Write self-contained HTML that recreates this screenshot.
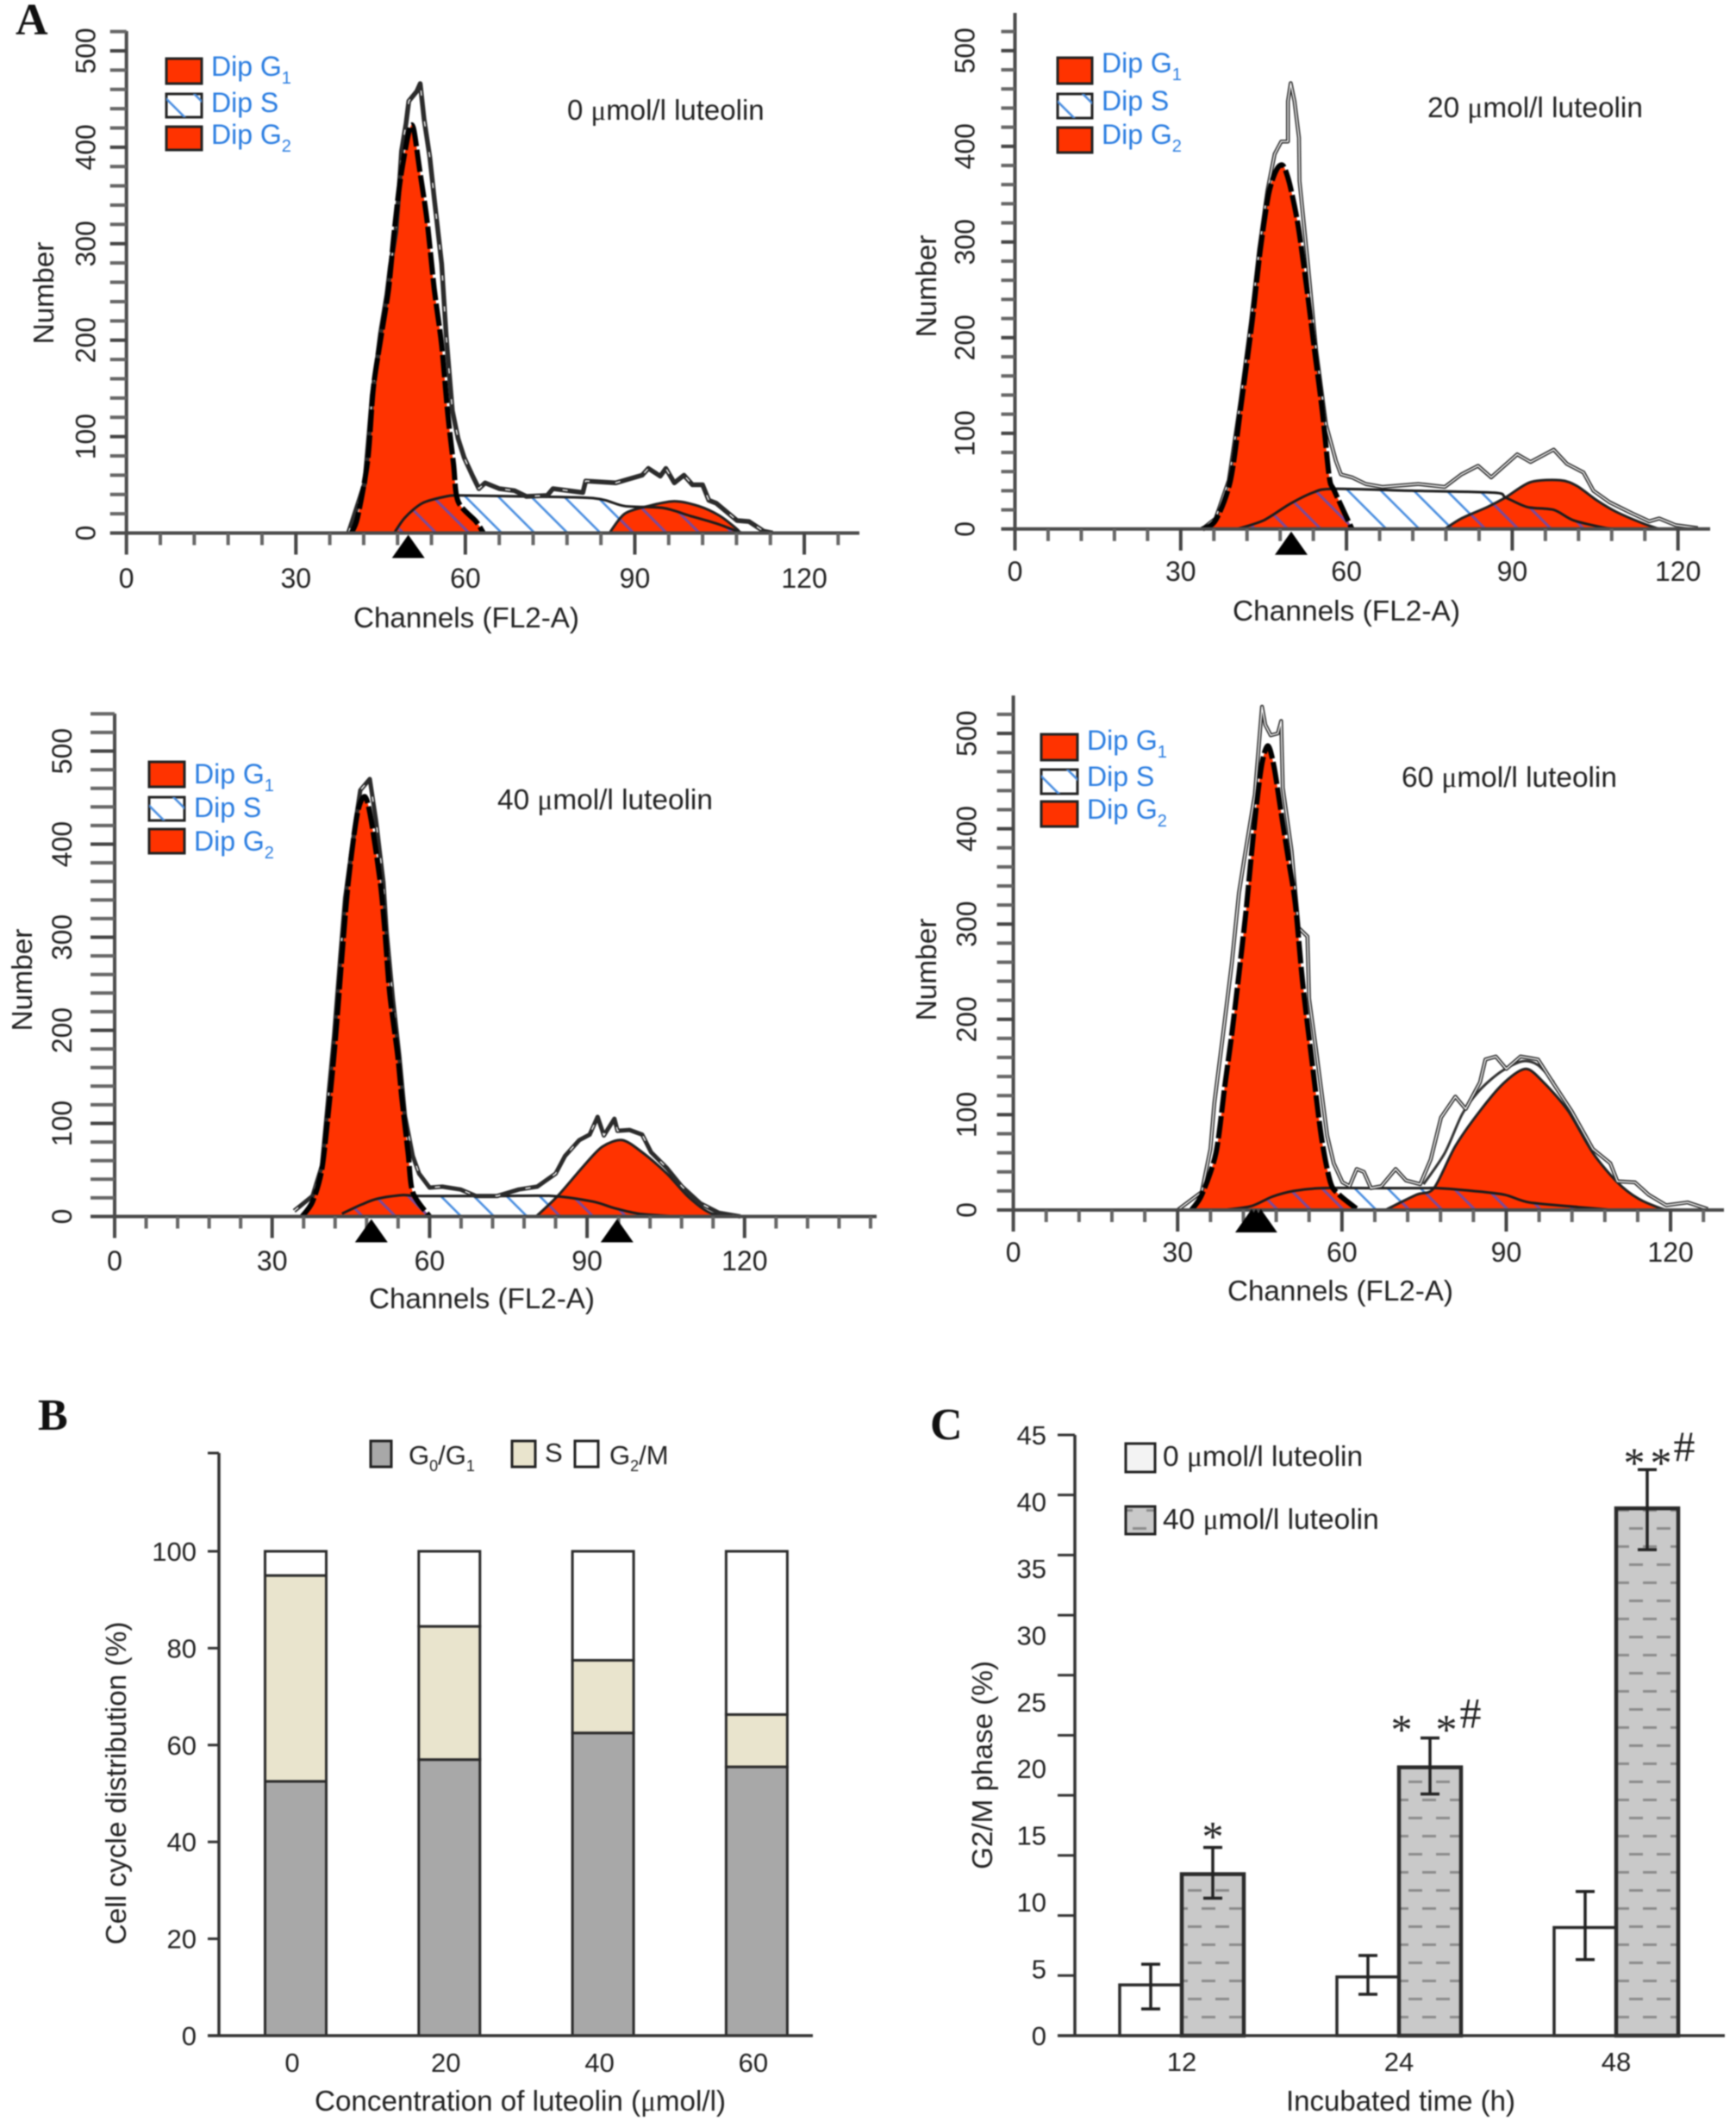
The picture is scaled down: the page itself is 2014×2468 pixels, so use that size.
<!DOCTYPE html>
<html lang="en">
<head>
<meta charset="utf-8">
<title>Luteolin cell cycle figure</title>
<style>
html,body{margin:0;padding:0;background:#fff;}
svg{display:block;filter:blur(.8px);}
text{font-family:"Liberation Sans",sans-serif;fill:#222;}
.tick{font-size:32px;}
.title{font-size:33.4px;}
.blue{font-size:32px;fill:#2a7de1;}
.blue tspan.sub{font-size:20px;fill:#2a7de1;}
.sub{font-size:18px;}
.mu{font-family:"Liberation Serif",serif;}
.letter{font-family:"Liberation Serif",serif;font-weight:bold;font-size:52px;fill:#111;}
.mark{font-family:"Liberation Serif",serif;font-size:50px;fill:#222;}
.sw{stroke:#222;stroke-width:3;}
</style>
</head>
<body>
<svg id="fig" width="2014" height="2468" viewBox="0 0 2014 2468">
<defs>
<pattern id="hatch" width="27" height="27" patternUnits="userSpaceOnUse" patternTransform="rotate(-45)"><rect x="0" y="0" width="2.6" height="27" fill="#4a8ee0"/></pattern>
<pattern id="hatchOver" width="27" height="27" patternUnits="userSpaceOnUse" patternTransform="rotate(-45)"><rect x="0" y="0" width="3" height="27" fill="#7a4a9a"/></pattern>
<pattern id="dash" width="32" height="42" patternUnits="userSpaceOnUse"><rect width="32" height="42" fill="#c9c9c9"/><rect x="2" y="8" width="16" height="3" fill="#8c8c8c"/><rect x="18" y="29" width="14" height="3" fill="#8c8c8c"/><rect x="0" y="29" width="2" height="3" fill="#8c8c8c"/></pattern>
</defs>
<rect width="2014" height="2468" fill="#fff"/>

<g id="a1"></g>
<g id="a2"></g>
<g id="a3"></g>
<g id="a4"></g>
<g id="chartB"></g>
<g id="chartC"></g>

<text class="letter" x="18" y="40">A</text>
<text class="letter" x="44" y="1659">B</text>
<text class="letter" x="1079" y="1670">C</text>

<!-- panel A1 labels -->
<g>
<rect class="sw" x="193" y="68" width="41" height="29" fill="#ff3300"/>
<rect class="sw" x="193" y="109" width="41" height="27" fill="#fff"/>
<rect x="193" y="109" width="41" height="27" fill="url(#hatch)"/>
<rect class="sw" x="193" y="147" width="41" height="27" fill="#ff3300"/>
<text class="blue" x="245" y="88">Dip G<tspan class="sub" dy="9">1</tspan></text>
<text class="blue" x="245" y="130">Dip S</text>
<text class="blue" x="245" y="167">Dip G<tspan class="sub" dy="9">2</tspan></text>
</g>
<text class="title" style="font-size:33px" x="658" y="139">0 <tspan class="mu">μ</tspan>mol/l luteolin</text>
<text class="title" transform="translate(62,340) rotate(-90)" text-anchor="middle">Number</text>
<text class="title" x="541" y="728" text-anchor="middle" textLength="262" lengthAdjust="spacingAndGlyphs">Channels (FL2-A)</text>

<!-- panel A2 labels -->
<g>
<rect class="sw" x="1227" y="67" width="40" height="30" fill="#ff3300"/>
<rect class="sw" x="1227" y="109" width="40" height="28" fill="#fff"/>
<rect x="1227" y="109" width="40" height="28" fill="url(#hatch)"/>
<rect class="sw" x="1227" y="148" width="40" height="29" fill="#ff3300"/>
<text class="blue" x="1278" y="84">Dip G<tspan class="sub" dy="9">1</tspan></text>
<text class="blue" x="1278" y="128">Dip S</text>
<text class="blue" x="1278" y="167">Dip G<tspan class="sub" dy="9">2</tspan></text>
</g>
<text class="title" x="1656" y="136">20 <tspan class="mu">μ</tspan>mol/l luteolin</text>
<text class="title" transform="translate(1086,332) rotate(-90)" text-anchor="middle">Number</text>
<text class="title" x="1562" y="720" text-anchor="middle" textLength="264" lengthAdjust="spacingAndGlyphs">Channels (FL2-A)</text>

<!-- panel A3 labels -->
<g>
<rect class="sw" x="173" y="884" width="41" height="29" fill="#ff3300"/>
<rect class="sw" x="173" y="925" width="41" height="27" fill="#fff"/>
<rect x="173" y="925" width="41" height="27" fill="url(#hatch)"/>
<rect class="sw" x="173" y="962" width="41" height="28" fill="#ff3300"/>
<text class="blue" x="225" y="909">Dip G<tspan class="sub" dy="9">1</tspan></text>
<text class="blue" x="225" y="948">Dip S</text>
<text class="blue" x="225" y="987">Dip G<tspan class="sub" dy="9">2</tspan></text>
</g>
<text class="title" x="577" y="939">40 <tspan class="mu">μ</tspan>mol/l luteolin</text>
<text class="title" transform="translate(37,1137) rotate(-90)" text-anchor="middle">Number</text>
<text class="title" x="559" y="1518" text-anchor="middle" textLength="262" lengthAdjust="spacingAndGlyphs">Channels (FL2-A)</text>

<!-- panel A4 labels -->
<g>
<rect class="sw" x="1208" y="852" width="42" height="30" fill="#ff3300"/>
<rect class="sw" x="1208" y="893" width="42" height="28" fill="#fff"/>
<rect x="1208" y="893" width="42" height="28" fill="url(#hatch)"/>
<rect class="sw" x="1208" y="930" width="42" height="29" fill="#ff3300"/>
<text class="blue" x="1261" y="870">Dip G<tspan class="sub" dy="9">1</tspan></text>
<text class="blue" x="1261" y="912">Dip S</text>
<text class="blue" x="1261" y="950">Dip G<tspan class="sub" dy="9">2</tspan></text>
</g>
<text class="title" x="1626" y="913">60 <tspan class="mu">μ</tspan>mol/l luteolin</text>
<text class="title" transform="translate(1086,1125) rotate(-90)" text-anchor="middle">Number</text>
<text class="title" x="1555" y="1509" text-anchor="middle" textLength="262" lengthAdjust="spacingAndGlyphs">Channels (FL2-A)</text>

<!-- panel B labels -->
<g>
<rect class="sw" x="430" y="1672" width="24" height="30" fill="#a8a8a8"/>
<text x="474" y="1699" style="font-size:31px">G<tspan class="sub" dy="8">0</tspan><tspan dy="-8">/G</tspan><tspan class="sub" dy="8">1</tspan></text>
<rect class="sw" x="594" y="1672" width="27" height="30" fill="#e9e4cd"/>
<text x="632" y="1696" style="font-size:31px">S</text>
<rect class="sw" x="667" y="1672" width="27" height="30" fill="#fff"/>
<text x="707" y="1699" style="font-size:31px">G<tspan class="sub" dy="8">2</tspan><tspan dy="-8">/M</tspan></text>
</g>
<text class="title" transform="translate(146,2069) rotate(-90)" text-anchor="middle" textLength="375" lengthAdjust="spacingAndGlyphs">Cell cycle distribution (%)</text>
<text class="title" x="365" y="2449" textLength="477" lengthAdjust="spacingAndGlyphs">Concentration of luteolin (<tspan class="mu">μ</tspan>mol/l)</text>

<!-- panel C labels -->
<g>
<rect class="sw" x="1306" y="1675" width="34" height="33" fill="#f3f3f3"/>
<text class="title" x="1349" y="1701" style="font-size:33.5px">0 <tspan class="mu">μ</tspan>mol/l luteolin</text>
<rect class="sw" x="1306" y="1748" width="34" height="32" fill="url(#dash)"/>
<text class="title" x="1349" y="1774" style="font-size:33.5px">40 <tspan class="mu">μ</tspan>mol/l luteolin</text>
</g>
<text class="title" transform="translate(1151,2048) rotate(-90)" text-anchor="middle" textLength="242" lengthAdjust="spacingAndGlyphs">G2/M phase (%)</text>
<text class="title" x="1625" y="2449" text-anchor="middle" textLength="266" lengthAdjust="spacingAndGlyphs">Incubated time (h)</text>
</svg>

<script>
/* ---------- histogram tick labels ---------- */
const histXTicks = [0, 30, 60, 90, 120];
const histYTicks = [0, 100, 200, 300, 400, 500];

/* ---------- panel A1: 0 umol/l ---------- */
const a1MeasuredCh = [39.3,40.3,42.2,43,43.5,44.3,45,46.1,46.7,47.7,48.2,48.7,49.5,50,51.4,52,52.7,53.7,54.5,55.8,56.6,57.7,58.7,59.8,61.3,62.4,63.5,66,68.7,70.8,74.5,75.5,80.8,81.3,86.6,91.3,92.4,94.5,95.5,97,98.7,100.2,102,103.1,104.4,108.1,110.2,112.8,114.4];
const a1MeasuredVal = [0,18,52,107,143,175,208,247,276,312,351,396,425,448,458,466,429,390,347,279,205,127,98,78,59,46,52,46,44,38,39,46,42,54,52,60,67,59,67,52,60,50,50,34,31,13,12,2,0];
const a1G1Ch = [39.8,40.9,42.7,43.7,45,46.4,47.4,48.5,50,50.8,51.9,53.2,54.5,55.8,56.9,57.9,58.7,61.9,63.2];
const a1G1Val = [0,16,75,150,201,253,312,367,416,420,377,325,253,195,123,72,33,12,0];
const a1SCh = [47.4,49.3,52.4,56.6,59.2,70,82.9,88.2,95,99.7,104.4,108.1,109.2];
const a1SVal = [0,16,31,38,39,38,36,28,26,18,10,2,0];
const a1G2Ch = [85.5,88.2,92.4,97,101.3,105,108.1,108.6];
const a1G2Val = [0,20,28,33,28,18,4,0];
const a1FitCh = [];
const a1FitVal = [];
const a1Markers = [49.9];

/* ---------- panel A2: 20 umol/l ---------- */
const a2MeasuredCh = [33.9,36.3,38.7,40.8,42.7,44.2,45.7,47,48.2,49.4,49.4,49.9,50.6,51.4,51.5,53,54.5,56.3,58.1,59,61,63.5,66.5,73,77.8,80.8,83.8,86.2,90.9,93.3,97.5,99.9,102.9,104.7,107.6,111.8,114.8,116.6,119.6,123.6];
const a2MeasuredVal = [0,11,51,133,216,292,354,392,405,405,447,466,447,409,364,278,188,109,71,57,54,47,44,47,44,57,66,54,78,70,83,68,59,40,28,16,8,11,4,1];
const a2G1Ch = [33.9,36.3,39,41,42.9,44.4,45.9,47.3,48.5,49.7,51.2,52.7,54.2,55.7,56.9,57.8,61];
const a2G1Val = [0,9,51,133,216,292,350,375,380,361,319,257,188,120,54,40,0];
const a2SCh = [40.2,45,49.7,53.9,57.5,71.8,86.7,88.8,92.7,97.5,101.1,107,110];
const a2SVal = [0,9,26,38,42,40,38,33,23,20,9,1,0];
const a2G2Ch = [77.8,80.8,85.5,88.8,93.3,98.7,101.7,105.3,108.8,113.6,116.6];
const a2G2Val = [0,11,23,33,49,51,45,30,18,6,0];
const a2FitCh = [];
const a2FitVal = [];
const a2Markers = [50];

/* ---------- panel A3: 40 umol/l ---------- */
const a3MeasuredCh = [34.2,37.7,39.5,40.7,41.8,43,43.9,46,46.8,48.6,49.8,51.2,51.8,53,54.2,55.3,56.8,58,60,62.4,65.9,68.8,72.9,77,80.5,84,85.8,88.5,90.5,92,93.2,95.2,95.8,98.1,100.5,102.2,105.2,108.1,111.6,115.1,119.2];
const a3MeasuredVal = [6,22,55,128,194,280,342,428,458,470,425,359,306,234,174,108,65,46,31,32,29,22,22,29,32,46,65,82,88,107,87,105,92,93,88,69,52,32,14,4,0];
const a3G1Ch = [35.7,37.7,39.5,41,42.1,43.3,44.5,46.2,47.7,48.9,50.6,51.5,52.4,53.9,54.7,55.9,56.8,60];
const a3G1Val = [0,16,52,128,194,280,359,432,451,425,359,306,240,174,128,69,26,0];
const a3SCh = [43.3,47.1,50,54.7,58.3,72.9,83.5,91.1,95.2,99.9,107];
const a3SVal = [3,13,19,23,22,22,22,16,9,3,0];
const a3G2Ch = [80.3,84.4,89.3,92.9,96.7,100.5,105.2,109.3,113.4,118];
const a3G2Val = [0,22,54,75,82,69,46,21,4,0];
const a3FitCh = [];
const a3FitVal = [];
const a3Markers = [48.9, 95.7];

/* ---------- panel A4: 60 umol/l ---------- */
const a4MeasuredCh = [30,34.4,36,36.7,38.3,39.9,41.2,42.2,44.1,45.4,46,47,48.3,48.9,49.2,50.8,52.1,53.7,54,55.3,57.3,58.5,60.1,61.4,62.7,64,65.3,67.2,69.8,71.7,74.3,76.2,78.1,80.7,82.6,85.2,86.2,88.1,90,92.6,95.8,98.7,101.9,105.8,109,110.3,113.5,116,119.2,123.1,126.8];
const a4MeasuredVal = [0,19,64,112,185,259,333,369,436,528,509,498,500,513,443,377,296,287,222,167,78,49,29,25,43,40,23,25,43,31,27,53,97,119,106,134,158,161,148,161,158,132,104,64,49,30,29,16,5,8,1];
const a4G1Ch = [32.5,34.4,37,38.6,39.9,41.2,42.5,43.4,44.4,45.4,46.5,47.6,48.9,50.2,51.5,52.8,54.7,56.3,57.9,59.5,63];
const a4G1Val = [0,16,60,130,185,248,314,369,425,469,487,465,417,369,321,240,148,75,29,16,0];
const a4SCh = [38.3,43.4,47.3,51.2,56.3,65.9,74.9,77.5,83.9,89.7,94.2,103.2,109.6];
const a4SVal = [0,4,14,20,23,23,23,23,20,16,8,3,0];
const a4G2Ch = [67.9,73.6,76.8,80.7,85.2,89.7,93.6,96.8,101.3,105.8,110.3,114.1,118.6,120.5];
const a4G2Val = [0,16,23,67,104,134,148,134,104,60,29,12,1,0];
const a4FitCh = [74.9,78.8,82,85.2,89,92.9,95.8,98.7];
const a4FitVal = [27,60,101,126,145,156,152,134];
const a4Markers = [43.5, 44.3, 45.2];

/* ---------- panel B: stacked bars ---------- */
const bCategories = ["0", "20", "40", "60"];
const bG0G1 = [52.5, 57, 62.5, 55.5];
const bS = [42.5, 27.5, 15, 10.8];
const bG2M = [5, 15.5, 22.5, 33.7];
const bYTicks = [0, 20, 40, 60, 80, 100];

/* ---------- panel C: grouped bars ---------- */
const cCategories = ["12", "24", "48"];
const cControl = [3.8, 4.4, 8.1];
const cControlErrUp = [1.55, 1.6, 2.7];
const cControlErrDown = [1.8, 1.3, 2.4];
const cTreated = [12.1, 20.1, 39.5];
const cTreatedErrUp = [2.0, 2.2, 2.9];
const cTreatedErrDown = [1.8, 2.0, 3.1];
const cYLabels = [0, 5, 10, 15, 20, 25, 30, 35, 40, 45];
const cYTickValues = [0, 4.5, 9, 13.5, 18, 22.5, 27, 31.5, 36, 40.5, 45];
const cSignificance = [["*"], ["*", "*", "#"], ["*", "*", "#"]];

const NS = 'http://www.w3.org/2000/svg';
function add(parent, tag, attrs, txt) {
  const n = document.createElementNS(NS, tag);
  for (const k in attrs) n.setAttribute(k, attrs[k]);
  if (txt !== undefined) n.textContent = txt;
  parent.appendChild(n);
  return n;
}

function drawHistogram(g, p, mCh, mVal, g1Ch, g1Val, sCh, sVal, g2Ch, g2Val, fitCh, fitVal, markers) {
  const x = c => p.x0 + c * p.sx;
  const y = v => p.y0 - v * p.sy;
  const line = (ch, val) => ch.map((c, i) => (i ? 'L' : 'M') + x(c).toFixed(1) + ' ' + y(val[i]).toFixed(1)).join(' ');
  const smooth = (ch, val) => {
    const pts = ch.map((c, i) => [x(c), y(val[i])]);
    let d = 'M' + pts[0][0].toFixed(1) + ' ' + pts[0][1].toFixed(1);
    for (let i = 0; i < pts.length - 1; i++) {
      const a = pts[i - 1] || pts[i], b = pts[i], c = pts[i + 1], e = pts[i + 2] || c;
      d += ' C' + (b[0] + (c[0] - a[0]) / 7).toFixed(1) + ' ' + (b[1] + (c[1] - a[1]) / 7).toFixed(1) + ' ' +
        (c[0] - (e[0] - b[0]) / 7).toFixed(1) + ' ' + (c[1] - (e[1] - b[1]) / 7).toFixed(1) + ' ' +
        c[0].toFixed(1) + ' ' + c[1].toFixed(1);
    }
    return d;
  };
  const area = (ch, val) => smooth(ch, val) + ' L' + x(ch[ch.length - 1]).toFixed(1) + ' ' + y(0) + ' L' + x(ch[0]).toFixed(1) + ' ' + y(0) + ' Z';
  let el;

  const clip = add(g, 'clipPath', {id: p.id + '-peaks'});
  add(clip, 'path', {d: area(g1Ch, g1Val)});
  add(clip, 'path', {d: area(g2Ch, g2Val)});

  el = add(g, 'path', {d: area(sCh, sVal), fill: '#fff'});
  
  
  el = add(g, 'path', {d: area(sCh, sVal), fill: 'url(#hatch)'});
  
  
  el = add(g, 'path', {d: area(g1Ch, g1Val), fill: '#ff3300'});
  
  
  el = add(g, 'path', {d: area(g2Ch, g2Val), fill: '#ff3300'});
  
  
  el = add(g, 'path', {d: area(sCh, sVal), fill: 'url(#hatchOver)', 'clip-path': 'url(#' + p.id + '-peaks)'});
  
  

  el = add(g, 'path', {d: smooth(g2Ch, g2Val), fill: 'none', stroke: '#222', 'stroke-width': 3});
  
  
  el = add(g, 'path', {d: smooth(sCh, sVal), fill: 'none', stroke: '#1c1c1c', 'stroke-width': 3});
  
  

  if (fitCh.length) {
    el = add(g, 'path', {d: smooth(fitCh, fitVal), fill: 'none', stroke: '#333', 'stroke-width': 3});
    
    
  }

  el = add(g, 'path', {d: line(mCh, mVal), fill: 'none', stroke: '#2b2b2b', 'stroke-width': p.mWidth, 'stroke-linejoin': 'round'});
  
  
  el = add(g, 'path', {d: line(mCh, mVal), fill: 'none', stroke: '#fff', 'stroke-width': 1.4, 'stroke-dasharray': p.core, 'stroke-linejoin': 'round'});
  
  
  el = add(g, 'path', {d: smooth(g1Ch, g1Val), fill: 'none', stroke: '#000', 'stroke-width': 6, 'stroke-dasharray': '26 4'});
  
  

  // axes
  el = add(g, 'line', {x1: x(0), x2: x(0), y1: p.top, y2: p.y0 + 25, stroke: '#4a4a4a', 'stroke-width': 4});
  
  
  el = add(g, 'line', {x1: x(0) - p.tickLeft, x2: p.right, y1: y(0), y2: y(0), stroke: '#4a4a4a', 'stroke-width': 4});
  
  
  for (let v = 20; y(v) >= p.top; v += 20) {
    el = add(g, 'line', {x1: x(0) - p.tickLeft, x2: x(0), y1: y(v), y2: y(v), stroke: v % 100 === 0 ? '#444' : '#666', 'stroke-width': 4});
    
    
  }
  for (let c = 6; x(c) <= p.right; c += 6) {
    el = add(g, 'line', {x1: x(c), x2: x(c), y1: y(0), y2: y(0) + (c % 30 === 0 ? 25 : 14), stroke: c % 30 === 0 ? '#444' : '#666', 'stroke-width': 4});
    
    
  }
  histXTicks.forEach(t => {
    el = add(g, 'text', {class: 'tick', x: x(t), y: p.xLabelY, 'text-anchor': 'middle'}, String(t));
    
    
  });
  histYTicks.forEach(t => {
    el = add(g, 'text', {class: 'tick', transform: 'translate(' + (x(0) - p.yLabelOff + 11) + ',' + y(t) + ') rotate(-90)', 'text-anchor': 'middle'}, String(t));
    
    
  });
  markers.forEach(c => {
    const m = x(c), b = y(0) + p.markerDrop;
    el = add(g, 'polygon', {points: (m - 19) + ',' + b + ' ' + m + ',' + (b - 27) + ' ' + (m + 19) + ',' + b, fill: '#000'});
    
    
  });
}

drawHistogram(document.getElementById('a1'),
  {id: 'a1', x0: 146.7, sx: 6.553, y0: 618.5, sy: 1.119, top: 36, right: 997, tickLeft: 19, yLabelOff: 47, xLabelY: 682, core: '6 30', mWidth: 5.5, markerDrop: 29},
  a1MeasuredCh, a1MeasuredVal, a1G1Ch, a1G1Val, a1SCh, a1SVal, a1G2Ch, a1G2Val, a1FitCh, a1FitVal, a1Markers);
drawHistogram(document.getElementById('a2'),
  {id: 'a2', x0: 1177.5, sx: 6.41, y0: 613.8, sy: 1.11, top: 15, right: 1984, tickLeft: 16, yLabelOff: 58, xLabelY: 674, core: 'none', mWidth: 4.5, markerDrop: 30},
  a2MeasuredCh, a2MeasuredVal, a2G1Ch, a2G1Val, a2SCh, a2SVal, a2G2Ch, a2G2Val, a2FitCh, a2FitVal, a2Markers);
drawHistogram(document.getElementById('a3'),
  {id: 'a3', x0: 133, sx: 6.09, y0: 1411.5, sy: 1.08, top: 828, right: 1017, tickLeft: 28, yLabelOff: 61, xLabelY: 1474, core: '6 30', mWidth: 5, markerDrop: 30},
  a3MeasuredCh, a3MeasuredVal, a3G1Ch, a3G1Val, a3SCh, a3SVal, a3G2Ch, a3G2Val, a3FitCh, a3FitVal, a3Markers);
drawHistogram(document.getElementById('a4'),
  {id: 'a4', x0: 1175.6, sx: 6.354, y0: 1404, sy: 1.106, top: 807, right: 2000, tickLeft: 19, yLabelOff: 54, xLabelY: 1464, core: 'none', mWidth: 4.5, markerDrop: 26},
  a4MeasuredCh, a4MeasuredVal, a4G1Ch, a4G1Val, a4SCh, a4SVal, a4G2Ch, a4G2Val, a4FitCh, a4FitVal, a4Markers);

/* ---------- stacked bars ---------- */
(function () {
  const g = document.getElementById('chartB');
  const y = v => 2362 - v * 5.62;
  const cx = i => 343 + i * 178.3;
  const w = 71;
  let el;
  el = add(g, 'line', {x1: 254, x2: 254, y1: 1686, y2: 2362, stroke: '#333', 'stroke-width': 3.5});
  
  
  el = add(g, 'line', {x1: 241, x2: 254, y1: 1686, y2: 1686, stroke: '#333', 'stroke-width': 3});
  
  
  bYTicks.forEach(t => {
    el = add(g, 'line', {x1: 241, x2: 254, y1: y(t), y2: y(t), stroke: '#333', 'stroke-width': 3});
    
    
    el = add(g, 'text', {class: 'tick', x: 228, y: y(t) + 11, 'text-anchor': 'end', style: 'font-size:31px'}, String(t));
    
    
  });
  bCategories.forEach((c, i) => {
    const left = cx(i) - w / 2;
    const a = bG0G1[i], b = a + bS[i], d = b + bG2M[i];
    el = add(g, 'rect', {x: left, y: y(a), width: w, height: y(0) - y(a), fill: '#a8a8a8', stroke: '#2a2a2a', 'stroke-width': 3});
    
    
    el = add(g, 'rect', {x: left, y: y(b), width: w, height: y(a) - y(b), fill: '#e9e4cd', stroke: '#2a2a2a', 'stroke-width': 3});
    
    
    el = add(g, 'rect', {x: left, y: y(d), width: w, height: y(b) - y(d), fill: '#fff', stroke: '#2a2a2a', 'stroke-width': 3});
    
    
    el = add(g, 'text', {class: 'tick', x: cx(i) - 4, y: 2404, 'text-anchor': 'middle', style: 'font-size:31px'}, c);
    
    
  });
  el = add(g, 'line', {x1: 241, x2: 943, y1: 2362, y2: 2362, stroke: '#333', 'stroke-width': 3.5});
  
  
})();

/* ---------- grouped bars ---------- */
(function () {
  const g = document.getElementById('chartC');
  const y = v => 2362 - v * 15.49;
  const cx = i => 1371 + i * 252;
  const w = 72;
  let el;
  el = add(g, 'line', {x1: 1247, x2: 1247, y1: y(45), y2: y(0), stroke: '#333', 'stroke-width': 3.5});
  
  
  cYTickValues.forEach(t => {
    el = add(g, 'line', {x1: 1227, x2: 1247, y1: y(t), y2: y(t), stroke: '#333', 'stroke-width': 3});
    
    
  });
  cYLabels.forEach(t => {
    el = add(g, 'text', {class: 'tick', x: 1214, y: y(t) + 11, 'text-anchor': 'end', style: 'font-size:31px'}, String(t));
    
    
  });
  function errorBar(xc, up, down) {
    let e;
    e = add(g, 'line', {x1: xc, x2: xc, y1: y(up), y2: y(down), stroke: '#222', 'stroke-width': 3.5});
    
    
    [up, down].forEach(v => {
      e = add(g, 'line', {x1: xc - 11, x2: xc + 11, y1: y(v), y2: y(v), stroke: '#222', 'stroke-width': 3.5});
      
      
    });
  }
  cCategories.forEach((c, i) => {
    const m = cx(i);
    el = add(g, 'rect', {x: m - w, y: y(cControl[i]), width: w, height: y(0) - y(cControl[i]), fill: '#fff', stroke: '#2a2a2a', 'stroke-width': 3.5});
    
    
    el = add(g, 'rect', {x: m, y: y(cTreated[i]), width: w, height: y(0) - y(cTreated[i]), fill: 'url(#dash)', stroke: '#2a2a2a', 'stroke-width': 4.5});
    
    
    errorBar(m - w / 2, cControl[i] + cControlErrUp[i], cControl[i] - cControlErrDown[i]);
    errorBar(m + w / 2, cTreated[i] + cTreatedErrUp[i], cTreated[i] - cTreatedErrDown[i]);
    el = add(g, 'text', {class: 'tick', x: m, y: 2403, 'text-anchor': 'middle', style: 'font-size:31px'}, c);
    
    
    const top = y(cTreated[i] + cTreatedErrUp[i]);
    const marks = cSignificance[i];
    const spacing = i === 1 ? [-33, 19, 47] : (i === 2 ? [-15, 16, 43] : [0]);
    const lift = i === 0 ? 5 : (i === 1 ? 2 : 0);
    marks.forEach((s, k) => {
      el = add(g, 'text', {class: 'mark', x: m + w / 2 + spacing[k], y: (s === '#' ? top - 10 : top + 9) - lift, 'text-anchor': 'middle'}, s);
      
      
    });
  });
  el = add(g, 'line', {x1: 1227, x2: 2001, y1: 2362, y2: 2362, stroke: '#333', 'stroke-width': 3.5});
  
  
})();
</script>
</body>
</html>
